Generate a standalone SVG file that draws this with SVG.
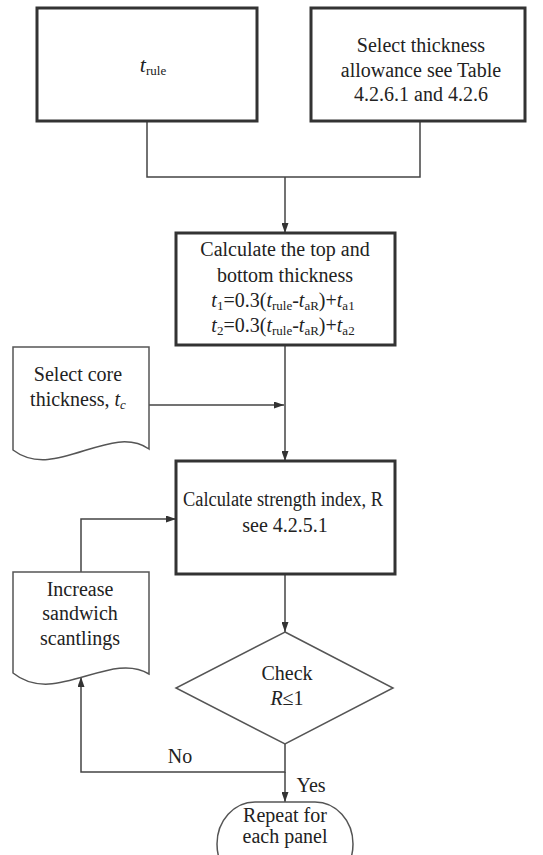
<svg xmlns="http://www.w3.org/2000/svg" width="543" height="855" viewBox="0 0 543 855">
<style>
text{font-size:20px;fill:#222;text-anchor:middle}
.it{font-style:italic}
.sub{font-size:13px}
.box{fill:#fff;stroke:#333;stroke-width:3}
.thin{fill:#fff;stroke:#555;stroke-width:1.5}
.con{fill:none;stroke:#444;stroke-width:1.5}
</style>
<defs>
<marker id="ah" markerWidth="10" markerHeight="7" refX="10" refY="3.5" orient="auto" markerUnits="userSpaceOnUse">
<path d="M0,0 L10,3.5 L0,7 z" fill="#333"/>
</marker>
</defs>
<g font-family="Liberation Serif, DejaVu Serif, serif">
<g id="connectors">
<path class="con" d="M147,121 V177 H420 V121"/>
<path class="con" d="M285,177 V233" marker-end="url(#ah)"/>
<path class="con" d="M285,345 V461" marker-end="url(#ah)"/>
<path class="con" d="M149,405 H284" marker-end="url(#ah)"/>
<path class="con" d="M285,574 V632" marker-end="url(#ah)"/>
<path class="con" d="M81,572 V519 H176" marker-end="url(#ah)"/>
<path class="con" d="M285,744 V772 H81 V677" marker-end="url(#ah)"/>
<path class="con" d="M285,772 V802" marker-end="url(#ah)"/>
<text x="180" y="763">No</text>
<text x="311" y="792">Yes</text>
</g>
<g id="trule">
<rect class="box" x="37" y="8" width="220" height="113"/>
<text x="153" y="72"><tspan class="it" font-size="22">t</tspan><tspan class="sub" dy="3">rule</tspan></text>
</g>
<g id="allowance">
<rect class="box" x="311" y="8" width="214" height="113"/>
<text x="421" y="52">Select thickness</text>
<text x="421" y="77">allowance see Table</text>
<text x="421" y="101">4.2.6.1 and 4.2.6</text>
</g>
<g id="calc-thickness">
<rect class="box" x="176" y="233" width="219" height="112"/>
<text x="285" y="256">Calculate the top and</text>
<text x="285" y="282">bottom thickness</text>
<text x="283" y="307"><tspan class="it">t</tspan><tspan class="sub" dy="3">1</tspan><tspan dy="-3">=0.3(</tspan><tspan class="it">t</tspan><tspan class="sub" dy="3">rule</tspan><tspan dy="-3">-</tspan><tspan class="it">t</tspan><tspan class="sub" dy="3">aR</tspan><tspan dy="-3">)+</tspan><tspan class="it">t</tspan><tspan class="sub" dy="3">a1</tspan></text>
<text x="283" y="332"><tspan class="it">t</tspan><tspan class="sub" dy="3">2</tspan><tspan dy="-3">=0.3(</tspan><tspan class="it">t</tspan><tspan class="sub" dy="3">rule</tspan><tspan dy="-3">-</tspan><tspan class="it">t</tspan><tspan class="sub" dy="3">aR</tspan><tspan dy="-3">)+</tspan><tspan class="it">t</tspan><tspan class="sub" dy="3">a2</tspan></text>
</g>
<g id="core">
<path class="thin" d="M13,347 H149 V449 C110,422 55,482 13,450 Z"/>
<text x="78" y="381">Select core</text>
<text x="78" y="406">thickness, <tspan class="it">t</tspan><tspan class="sub it" dy="3">c</tspan></text>
</g>
<g id="strength">
<rect class="box" x="176" y="461" width="219" height="113"/>
<text x="283" y="506" textLength="200" lengthAdjust="spacingAndGlyphs">Calculate strength index, R</text>
<text x="285" y="532">see 4.2.5.1</text>
</g>
<g id="increase">
<path class="thin" d="M13,572 H149 V674 C110,650 55,707 13,673 Z"/>
<text x="80" y="596">Increase</text>
<text x="80" y="620">sandwich</text>
<text x="80" y="645">scantlings</text>
</g>
<g id="check">
<path class="thin" d="M285,632 L393,688 L285,744 L176,688 Z"/>
<text x="287" y="680">Check</text>
<text x="287" y="705"><tspan class="it">R</tspan>≤1</text>
</g>
<g id="repeat">
<rect class="thin" x="217" y="802" width="136" height="84" rx="38" ry="42"/>
<text x="285" y="822">Repeat for</text>
<text x="285" y="843">each panel</text>
</g>
</g>
</svg>
